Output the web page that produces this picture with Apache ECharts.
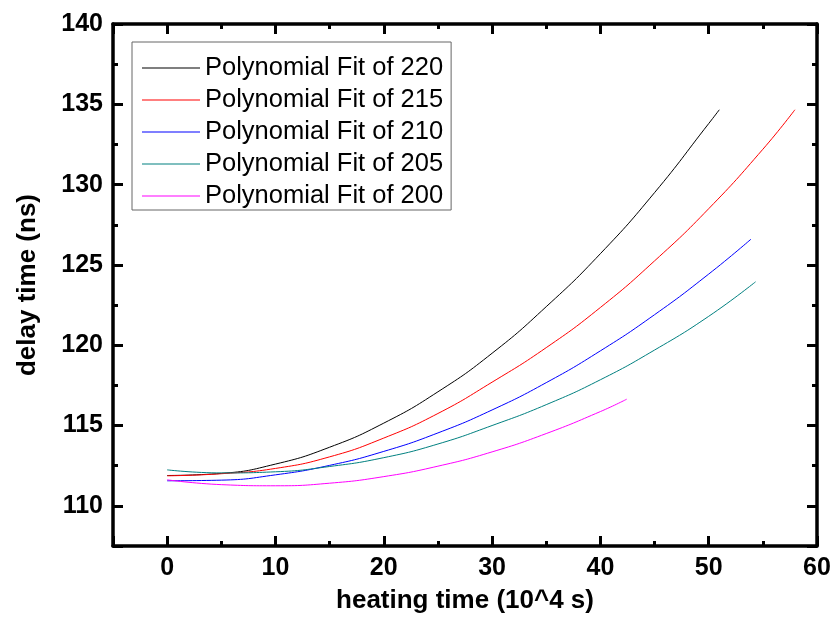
<!DOCTYPE html>
<html>
<head>
<meta charset="utf-8">
<script src="https://cdn.jsdelivr.net/npm/echarts@6/dist/echarts.min.js"></script>
<style>
html, body { margin: 0; padding: 0; background: #fff; }
#chart { width: 839px; height: 636px; }
</style>
</head>
<body>
<div id="chart"></div>
<script>
// 读图得到的拟合曲线取样点 (heating time, delay time)
var names = ['Polynomial Fit of 220', 'Polynomial Fit of 215', 'Polynomial Fit of 210', 'Polynomial Fit of 205', 'Polynomial Fit of 200'];
var colors = ['#000000', '#ff0000', '#0000ff', '#008080', '#ff00ff'];

var x220 = [0, 5, 10, 15, 20, 25, 30, 35, 40, 45, 50, 50.98];
var y220 = [111.89, 112.02, 112.6, 113.65, 115.15, 117.1, 119.5, 122.4, 125.7, 129.5, 133.8, 134.66];

var x215 = [0, 5, 10, 15, 20, 25, 30, 35, 40, 45, 50, 55, 57.96];
var y215 = [111.87, 112.0, 112.33, 113.05, 114.22, 115.75, 117.7, 119.85, 122.35, 125.25, 128.5, 132.2, 134.66];

var x210 = [0, 5, 10, 15, 20, 25, 30, 35, 40, 45, 50, 53.9];
var y210 = [111.56, 111.6, 111.93, 112.52, 113.39, 114.54, 115.97, 117.67, 119.65, 121.9, 124.43, 126.6];

var x205 = [0, 5, 10, 15, 20, 25, 30, 35, 40, 45, 50, 54.33];
var y205 = [112.24, 112.05, 112.12, 112.45, 113.0, 113.85, 115.0, 116.3, 117.85, 119.7, 121.8, 123.95];

var x200 = [0, 5, 10, 15, 20, 25, 30, 35, 40, 42.43];
var y200 = [111.62, 111.32, 111.25, 111.41, 111.82, 112.47, 113.36, 114.5, 115.87, 116.64];

var xs = [x220, x215, x210, x205, x200];
var ys = [y220, y215, y210, y205, y200];

var font = 'Liberation Sans, Arial, sans-serif';

function pairs(xa, ya) {
	var arr = [];
	for (var i = 0; i < xa.length; i++) {
		arr.push([xa[i], ya[i]]);
	}
	return arr;
}

var series = [];
for (var s = 0; s < names.length; s++) {
	series.push({
		name: names[s],
		type: 'line',
		smooth: 0.5,
		symbol: 'none',
		data: pairs(xs[s], ys[s]),
		lineStyle: { color: colors[s], width: 1 },
		itemStyle: { color: colors[s] }
	});
}

function axisBase(showLabel) {
	return {
		type: 'value',
		splitLine: { show: false },
		axisLine: { show: true, onZero: false, lineStyle: { color: '#000', width: 3.5 } },
		axisTick: { show: true, inside: true, length: 10, lineStyle: { color: '#000', width: 3 } },
		minorTick: { show: true, splitNumber: 2, length: 5, lineStyle: { color: '#000', width: 3 } },
		axisLabel: {
			show: showLabel,
			showMinLabel: false,
			color: '#000',
			fontFamily: font,
			fontWeight: 'bold',
			fontSize: 25
		}
	};
}

var xBottom = Object.assign(axisBase(true), {
	position: 'bottom', min: -5, max: 60,
	name: 'heating time (10^4 s)', nameLocation: 'middle', nameGap: 42,
	nameTextStyle: { color: '#000', fontFamily: font, fontWeight: 'bold', fontSize: 26 }
});
xBottom.axisLabel.margin = 10;
var xTop = Object.assign(axisBase(false), { position: 'top', min: -5, max: 60 });

var yLeft = Object.assign(axisBase(true), {
	position: 'left', min: 107.5, max: 140,
	name: 'delay time (ns)', nameLocation: 'middle', nameGap: 72,
	nameTextStyle: { color: '#000', fontFamily: font, fontWeight: 'bold', fontSize: 26 }
});
yLeft.axisLabel.margin = 10;
var yRight = Object.assign(axisBase(false), { position: 'right', min: 107.5, max: 140 });

var myChart = echarts.init(document.getElementById('chart'));
myChart.setOption({
	animation: false,
	backgroundColor: '#fff',
	grid: { left: 113, right: 22, top: 24, bottom: 90, containLabel: false },
	legend: {
		orient: 'vertical',
		left: 132,
		top: 42,
		data: names,
		icon: 'rect',
		itemWidth: 58,
		itemHeight: 1,
		itemGap: 6,
		padding: [13, 8, 1, 10],
		borderColor: '#666',
		borderWidth: 1,
		textStyle: { color: '#000', fontFamily: font, fontSize: 25.5, lineHeight: 26 }
	},
	xAxis: [xBottom, xTop],
	yAxis: [yLeft, yRight],
	series: series
});
</script>
</body>
</html>
